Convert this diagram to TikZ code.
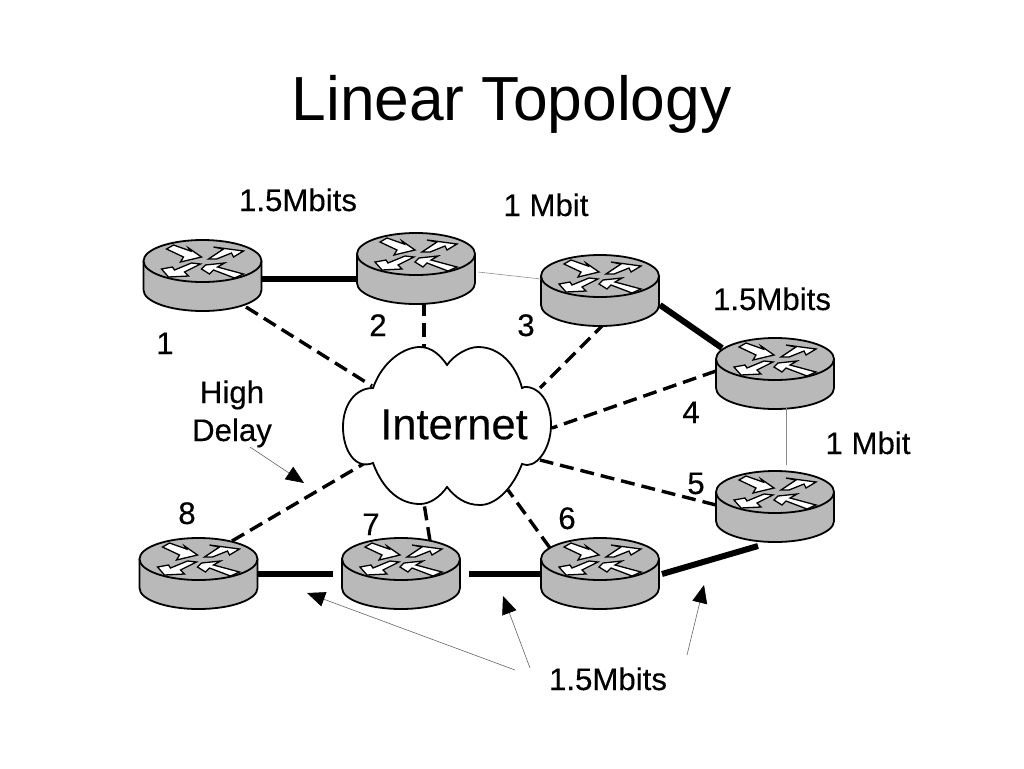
\documentclass[tikz,border=0pt]{standalone}
\usepackage{fontspec}
\setmainfont{Liberation Sans}
\newfontfamily\heavyfont[FakeBold=0.25]{Liberation Sans}
\usetikzlibrary{arrows.meta}
\definecolor{routergray}{HTML}{B9B9B9}
\tikzset{
  routernode/.style={minimum width=118pt,minimum height=70pt,inner sep=0pt,outer sep=0pt},
  cloudnode/.style={minimum width=208pt,minimum height=158pt,inner sep=0pt,outer sep=0pt},
  routerline/.style={draw=black,line width=1.8pt,line join=round},
  routerarrow/.style={draw=black,fill=white,line width=1.3pt,line join=miter},
  thicklink/.style={draw=black,line width=6pt},
  thinlink/.style={draw=black!45,line width=0.6pt},
  dashlink/.style={draw=black,line width=3.4pt,dash pattern=on 14pt off 7pt},
  pointer/.style={draw=black!60,line width=0.6pt,-{Triangle[length=18pt,width=15pt,color=black,fill=black]}},
  lbl/.style={anchor=base,inner sep=0pt,font=\heavyfont\fontsize{31.2}{31.2}\selectfont},
  cloudtext/.style={inner sep=0pt,font=\heavyfont\fontsize{43.5}{43.5}\selectfont},
  titletext/.style={anchor=base,inner sep=0pt,font=\fontsize{62.3}{62.3}\selectfont}
}
\newcommand{\routerat}[1]{%
  \begin{scope}[shift={(#1.center)}]
    \path[routerline,fill=routergray] (-59,-14) -- (-59,15) arc[start angle=180,end angle=0,x radius=59,y radius=21] -- (59,-14) -- cycle;
    \path[routerline,fill=routergray] (0,-14) ellipse[x radius=59,y radius=21];
    \begin{scope}[shift={(0,-14)}]
      \path[routerarrow] (-36,-12) -- (-29,-16) -- (-12,-10) -- (-14,-13) -- (-1,-4) -- (-22,1) -- (-19,-4) -- cycle;
      \path[routerarrow] (6,-2) -- (21,-12) -- (11,-14) -- (41,-10) -- (31,-4) -- (29,-8) -- (14,-2) -- cycle;
      \path[routerarrow] (-41,8) -- (-30,6) -- (-28,9) -- (-11,2) -- (-2,3) -- (-18,11) -- (-14,15) -- (-34,16) -- cycle;
      \path[routerarrow] (-1,8) -- (3,4) -- (22,2) -- (15,6) -- (41,13) -- (32,17) -- (11,9) -- (7,13) -- cycle;
    \end{scope}
  \end{scope}
}
\begin{document}
\begin{tikzpicture}[x=1pt,y=-1pt]
\useasboundingbox (0,0) rectangle (1024,768);
\fill[white] (0,0) rectangle (1024,768);

\node[titletext] (title) at (511.5,120) {Linear Topology};

\node[cloudnode] (cloud) at (454,424.5) {};
\coordinate (c1) at (250,447);
\coordinate (t0) at (304,483);
\coordinate (t1) at (307,593);
\coordinate (t2) at (503,596);
\coordinate (t3) at (704,585);
\node[routernode] (p1) at (202.5,275) {};
\node[routernode] (p2) at (416,268) {};
\node[routernode] (p3) at (600,290) {};
\node[routernode] (p4) at (775,373) {};
\node[routernode] (p5) at (775,506) {};
\node[routernode] (p6) at (600,573) {};
\node[routernode] (p7) at (401,573) {};
\node[routernode] (p8) at (198.5,573) {};

% dashed links to the cloud
\draw[dashlink] ([shift={(43.5,32)}]p1.center) -- ([shift={(-82,-38.5)}]cloud.center);
\draw[dashlink] ([shift={(8,34)}]p2.center) -- ([shift={(-30,-76.5)}]cloud.center);
\draw[dashlink] ([shift={(5,33)}]p3.center) -- ([shift={(86,-36.5)}]cloud.center);
\draw[dashlink] ([shift={(-59,-2)}]p4.center) -- ([shift={(98,3.5)}]cloud.center);
\draw[dashlink] ([shift={(-59,-1)}]p5.center) -- ([shift={(86,35.5)}]cloud.center);
\draw[dashlink] ([shift={(-50,-25)}]p6.center) -- ([shift={(54,65.5)}]cloud.center);
\draw[dashlink] ([shift={(29,-32)}]p7.center) -- ([shift={(-31,72.5)}]cloud.center);
\draw[dashlink] ([shift={(33.5,-32)}]p8.center) -- ([shift={(-89,38.5)}]cloud.center);

% cloud outline
\path[draw=black,fill=white,line width=1.8pt,line join=miter]
  (373,388) .. controls (383,360) and (405,347) .. (420,347)
  .. controls (432,347) and (441,356) .. (447,365)
  .. controls (454,355) and (468,347) .. (478,347)
  .. controls (500,347) and (516,365) .. (522,388)
  .. controls (527,384) and (551,390) .. (551,425)
  .. controls (551,450) and (535,470) .. (522,464)
  .. controls (512,490) and (495,505) .. (480,505)
  .. controls (465,505) and (455,497) .. (447,487)
  .. controls (440,497) and (430,504) .. (420,504)
  .. controls (400,504) and (383,490) .. (373,463)
  .. controls (355,470) and (343,450) .. (343,427)
  .. controls (343,405) and (355,388) .. (373,388) -- cycle;
\node[cloudtext] (cloudlabel) at (cloud.center) {Internet};

% routers
\routerat{p1}
\routerat{p2}
\routerat{p3}
\routerat{p4}
\routerat{p5}
\routerat{p6}
\routerat{p7}
\routerat{p8}

% solid links
\draw[thicklink] ([shift={(59.5,4)}]p1.center) -- ([shift={(-59,11)}]p2.center);
\draw[thinlink] ([shift={(62,4)}]p2.center) -- ([shift={(-59,-11)}]p3.center);
\draw[thicklink] ([shift={(60,15)}]p3.center) -- ([shift={(-53,-25)}]p4.center);
\draw[thinlink] ([shift={(11,35)}]p4.center) -- ([shift={(11,-41)}]p5.center);
\draw[thicklink] ([shift={(-17,40)}]p5.center) -- ([shift={(62,1)}]p6.center);
\draw[thicklink] ([shift={(-59,1)}]p6.center) -- ([shift={(68,1)}]p7.center);
\draw[thicklink] ([shift={(-68,1)}]p7.center) -- ([shift={(59.5,1)}]p8.center);

% labels
\node[lbl] (b1) at (298,211) {1.5Mbits};
\node[lbl] (b2) at (546,216) {1 Mbit};
\node[lbl] (b3) at (772,310) {1.5Mbits};
\node[lbl] (b4) at (868,454) {1 Mbit};
\node[lbl] (bl) at (608,690) {1.5Mbits};
\node[lbl] (n1) at (165,354) {1};
\node[lbl] (n2) at (378,336) {2};
\node[lbl] (n3) at (526,336) {3};
\node[lbl] (n4) at (691,423) {4};
\node[lbl] (n5) at (696,494) {5};
\node[lbl] (n6) at (567,529) {6};
\node[lbl] (n7) at (371,535) {7};
\node[lbl] (n8) at (187,524) {8};
\node[lbl] (hi) at (232,403) {High};
\node[lbl] (hd) at (232,441) {Delay};

% pointers
\draw[pointer] (c1) -- (t0);
\draw[pointer] ([shift={(-93,-20)}]bl.base) -- (t1);
\draw[pointer] ([shift={(-78,-22)}]bl.base) -- (t2);
\draw[pointer] ([shift={(79,-35)}]bl.base) -- (t3);
\end{tikzpicture}
\end{document}
